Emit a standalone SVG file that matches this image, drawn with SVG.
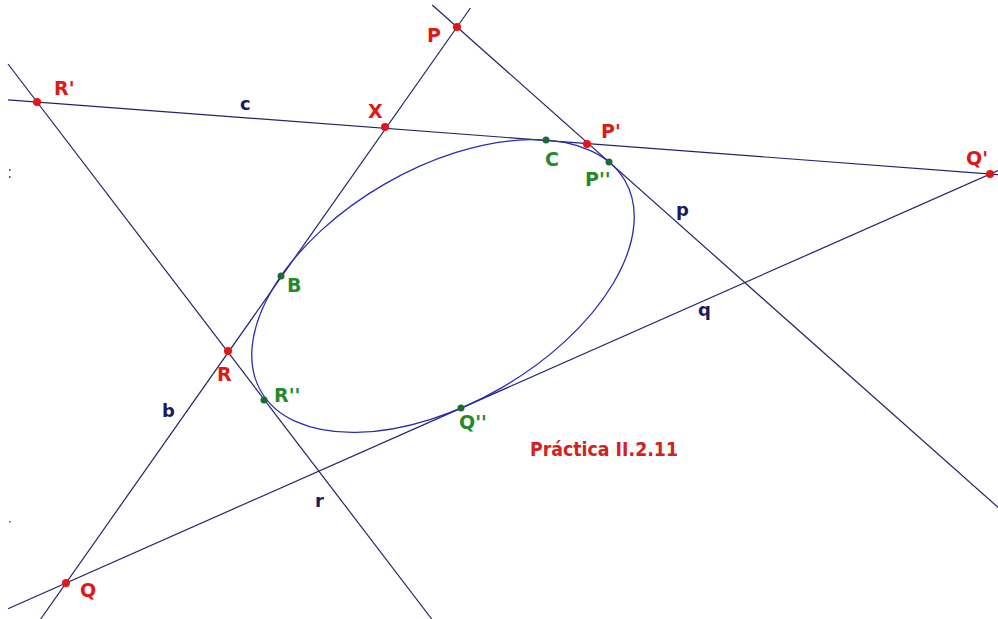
<svg xmlns="http://www.w3.org/2000/svg" width="998" height="619" viewBox="0 0 998 619">
<style>
.ln{stroke:#23236a;stroke-width:1.2;fill:none}
.con{stroke:#2a2ab4;stroke-width:1.3;fill:none}
.rp{fill:#e81414}
.gp{fill:#1d6b34}
.rl{fill:#e01818;font-family:"DejaVu Sans","Liberation Sans",sans-serif;font-weight:bold;font-size:19px}
.gl{fill:#248a2c;font-family:"DejaVu Sans","Liberation Sans",sans-serif;font-weight:bold;font-size:19px}
.ll{fill:#1a1a60;font-family:"DejaVu Sans","Liberation Sans",sans-serif;font-weight:bold;font-size:18px}
.tt{fill:#d42020;font-family:"DejaVu Sans","Liberation Sans",sans-serif;font-weight:bold;font-size:19px}
</style>
<rect width="998" height="619" fill="#ffffff"/>
<g id="connectors">
<line id="line-c" class="ln" x1="8" y1="99.8" x2="998" y2="174.6"/>
<line id="line-b" class="ln" x1="470.4" y1="8" x2="40.7" y2="619"/>
<line id="line-p" class="ln" x1="432.2" y1="5" x2="998" y2="507.4"/>
<line id="line-q" class="ln" x1="8" y1="608.7" x2="998" y2="170.5"/>
<line id="line-r" class="ln" x1="8" y1="64" x2="431.7" y2="619"/>
</g>
<g id="conic">
<ellipse class="con" cx="443" cy="286" rx="210.3" ry="117.4" transform="rotate(-30.1 443 286)"/>
</g>
<g id="specks" fill="#555">
<rect x="9" y="169" width="1.5" height="2"/>
<rect x="9" y="176" width="1.5" height="2"/>
<rect x="9" y="521" width="1.5" height="1.5"/>
</g>
<g id="P"><circle class="rp" cx="457" cy="27" r="4"/><text class="rl" x="427" y="42">P</text></g>
<g id="Rp"><circle class="rp" cx="37" cy="102" r="4"/><text class="rl" x="54" y="95">R'</text></g>
<g id="X"><circle class="rp" cx="385" cy="127" r="4"/><text class="rl" x="368" y="118">X</text></g>
<g id="Pp"><circle class="rp" cx="587" cy="144" r="4"/><text class="rl" x="601" y="138">P'</text></g>
<g id="Qp"><circle class="rp" cx="990" cy="174" r="4"/><text class="rl" x="966" y="165">Q'</text></g>
<g id="R"><circle class="rp" cx="228" cy="351" r="4"/><text class="rl" x="217" y="381">R</text></g>
<g id="Q"><circle class="rp" cx="66" cy="583" r="4"/><text class="rl" x="80" y="597">Q</text></g>
<g id="C"><circle class="gp" cx="546" cy="140" r="3.5"/><text class="gl" x="545" y="166">C</text></g>
<g id="Ppp"><circle class="gp" cx="609" cy="162" r="3.5"/><text class="gl" x="585" y="186">P''</text></g>
<g id="B"><circle class="gp" cx="281" cy="276" r="3.5"/><text class="gl" x="287" y="292">B</text></g>
<g id="Rpp"><circle class="gp" cx="264" cy="400" r="3.5"/><text class="gl" x="274" y="402">R''</text></g>
<g id="Qpp"><circle class="gp" cx="461" cy="408" r="3.5"/><text class="gl" x="459" y="429">Q''</text></g>
<g id="labels">
<text class="ll" x="240" y="110">c</text>
<text class="ll" x="162" y="417">b</text>
<text class="ll" x="676" y="216">p</text>
<text class="ll" x="698" y="316">q</text>
<text class="ll" x="315" y="507">r</text>
<text class="tt" x="530" y="456" textLength="148" lengthAdjust="spacingAndGlyphs">Práctica II.2.11</text>
</g>
</svg>
